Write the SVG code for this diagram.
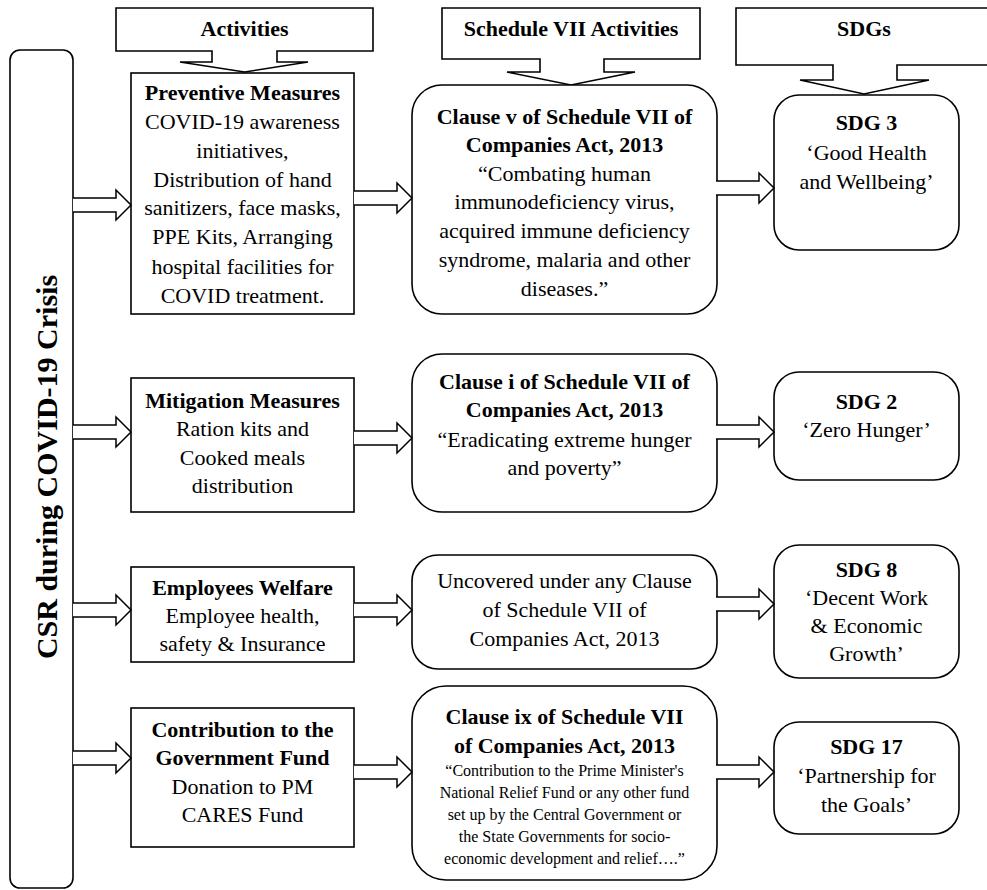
<svg xmlns="http://www.w3.org/2000/svg" xmlns:xlink="http://www.w3.org/1999/xlink" width="987" height="890" viewBox="0 0 987 890">
<style>
  .box { fill: #fff; stroke: #000; stroke-width: 1.6; }
  .arr { fill: #fff; stroke: #000; stroke-width: 1.5; stroke-linejoin: miter; }
  text { font-family: "Liberation Serif", "Times New Roman", serif; fill: #000; text-anchor: middle; font-size: 22px; }
  .b { font-weight: bold; }
  .s { font-size: 16px; }
  .side { font-size: 30px; font-weight: bold; }
</style>
<defs>
  <path id="arrow" d="M0,-7 H43 V-15 L58,0 L43,15 V7 H0"/>
</defs>
<rect width="987" height="890" fill="#fff"/>

<g id="side-bar">
  <rect class="box" x="10" y="50" width="63" height="838" rx="10"/>
  <text class="side" transform="translate(57,467) rotate(-90)">CSR during COVID-19 Crisis</text>
</g>

<g id="header-activities">
  <path class="box" d="M212,51 H116 V8 H373 V51 H277 V62 H308 L244.5,72 L180,62 H212 Z"/>
  <text class="b" x="244.5" y="36">Activities</text>
</g>
<g id="header-schedule">
  <path class="box" d="M540,59 H442 V8 H700 V59 H604 V72 H635 L571,85 L507,72 H540 Z"/>
  <text class="b" x="571" y="36">Schedule VII Activities</text>
</g>
<g id="header-sdgs">
  <path class="box" d="M833,65 H736 V8 H1000 V65 H897 V80 H929 L864,94 L800,80 H833 Z"/>
  <text class="b" x="864" y="36">SDGs</text>
</g>

<g id="act-preventive">
  <rect class="box" x="131" y="73" width="223" height="241"/>
  <text class="b" x="242.5" y="100">Preventive Measures</text>
  <text x="242.5" y="129">COVID-19 awareness</text>
  <text x="242.5" y="158">initiatives,</text>
  <text x="242.5" y="187">Distribution of hand</text>
  <text x="242.5" y="215">sanitizers, face masks,</text>
  <text x="242.5" y="244">PPE Kits, Arranging</text>
  <text x="242.5" y="274">hospital facilities for</text>
  <text x="242.5" y="303">COVID treatment.</text>
</g>
<g id="act-mitigation">
  <rect class="box" x="131" y="378" width="223" height="134"/>
  <text class="b" x="242.5" y="408">Mitigation Measures</text>
  <text x="242.5" y="436">Ration kits and</text>
  <text x="242.5" y="465">Cooked meals</text>
  <text x="242.5" y="493">distribution</text>
</g>
<g id="act-employees">
  <rect class="box" x="131" y="567" width="223" height="95"/>
  <text class="b" x="242.5" y="595">Employees Welfare</text>
  <text x="242.5" y="623">Employee health,</text>
  <text x="242.5" y="651">safety &amp; Insurance</text>
</g>
<g id="act-contribution">
  <rect class="box" x="131" y="708" width="223" height="139"/>
  <text class="b" x="242.5" y="737">Contribution to the</text>
  <text class="b" x="242.5" y="765">Government Fund</text>
  <text x="242.5" y="794">Donation to PM</text>
  <text x="242.5" y="822">CARES Fund</text>
</g>

<g id="sch-clause-v">
  <rect class="box" x="412" y="85" width="305" height="229" rx="30"/>
  <text class="b" x="564.5" y="124">Clause v of Schedule VII of</text>
  <text class="b" x="564.5" y="152">Companies Act, 2013</text>
  <text x="564.5" y="181">“Combating human</text>
  <text x="564.5" y="209">immunodeficiency virus,</text>
  <text x="564.5" y="238">acquired immune deficiency</text>
  <text x="564.5" y="267">syndrome, malaria and other</text>
  <text x="564.5" y="296">diseases.”</text>
</g>
<g id="sch-clause-i">
  <rect class="box" x="412" y="354" width="305" height="158" rx="30"/>
  <text class="b" x="564.5" y="389">Clause i of Schedule VII of</text>
  <text class="b" x="564.5" y="417">Companies Act, 2013</text>
  <text x="564.5" y="447">“Eradicating extreme hunger</text>
  <text x="564.5" y="475">and poverty”</text>
</g>
<g id="sch-uncovered">
  <rect class="box" x="412" y="555" width="305" height="114" rx="26"/>
  <text x="564.5" y="588">Uncovered under any Clause</text>
  <text x="564.5" y="617">of Schedule VII of</text>
  <text x="564.5" y="646">Companies Act, 2013</text>
</g>
<g id="sch-clause-ix">
  <rect class="box" x="412" y="686" width="305" height="194" rx="34"/>
  <text class="b" x="564.5" y="724">Clause ix of Schedule VII</text>
  <text class="b" x="564.5" y="753">of Companies Act, 2013</text>
  <text class="s" x="564.5" y="776">“Contribution to the Prime Minister's</text>
  <text class="s" x="564.5" y="798">National Relief Fund or any other fund</text>
  <text class="s" x="564.5" y="820">set up by the Central Government or</text>
  <text class="s" x="564.5" y="842">the State Governments for socio-</text>
  <text class="s" x="564.5" y="864">economic development and relief….”</text>
</g>

<g id="sdg-3">
  <rect class="box" x="774" y="95" width="185" height="155" rx="25"/>
  <text class="b" x="866.5" y="130">SDG 3</text>
  <text x="866.5" y="160">‘Good Health</text>
  <text x="866.5" y="189">and Wellbeing’</text>
</g>
<g id="sdg-2">
  <rect class="box" x="774" y="372" width="185" height="108" rx="25"/>
  <text class="b" x="866.5" y="409">SDG 2</text>
  <text x="866.5" y="437">‘Zero Hunger’</text>
</g>
<g id="sdg-8">
  <rect class="box" x="774" y="545" width="185" height="133" rx="25"/>
  <text class="b" x="866.5" y="577">SDG 8</text>
  <text x="866.5" y="605">‘Decent Work</text>
  <text x="866.5" y="633">&amp; Economic</text>
  <text x="866.5" y="661">Growth’</text>
</g>
<g id="sdg-17">
  <rect class="box" x="774" y="722" width="185" height="112" rx="25"/>
  <text class="b" x="866.5" y="754">SDG 17</text>
  <text x="866.5" y="783">‘Partnership for</text>
  <text x="866.5" y="812">the Goals’</text>
</g>

<g id="connectors">
  <use class="arr" xlink:href="#arrow" href="#arrow" x="73" y="205"/>
  <use class="arr" xlink:href="#arrow" href="#arrow" x="354" y="198"/>
  <use class="arr" xlink:href="#arrow" href="#arrow" x="716" y="188"/>
  <use class="arr" xlink:href="#arrow" href="#arrow" x="73" y="432"/>
  <use class="arr" xlink:href="#arrow" href="#arrow" x="354" y="438"/>
  <use class="arr" xlink:href="#arrow" href="#arrow" x="716" y="432"/>
  <use class="arr" xlink:href="#arrow" href="#arrow" x="73" y="610"/>
  <use class="arr" xlink:href="#arrow" href="#arrow" x="354" y="610"/>
  <use class="arr" xlink:href="#arrow" href="#arrow" x="716" y="604"/>
  <use class="arr" xlink:href="#arrow" href="#arrow" x="73" y="758"/>
  <use class="arr" xlink:href="#arrow" href="#arrow" x="354" y="772"/>
  <use class="arr" xlink:href="#arrow" href="#arrow" x="716" y="772"/>
</g>
</svg>
